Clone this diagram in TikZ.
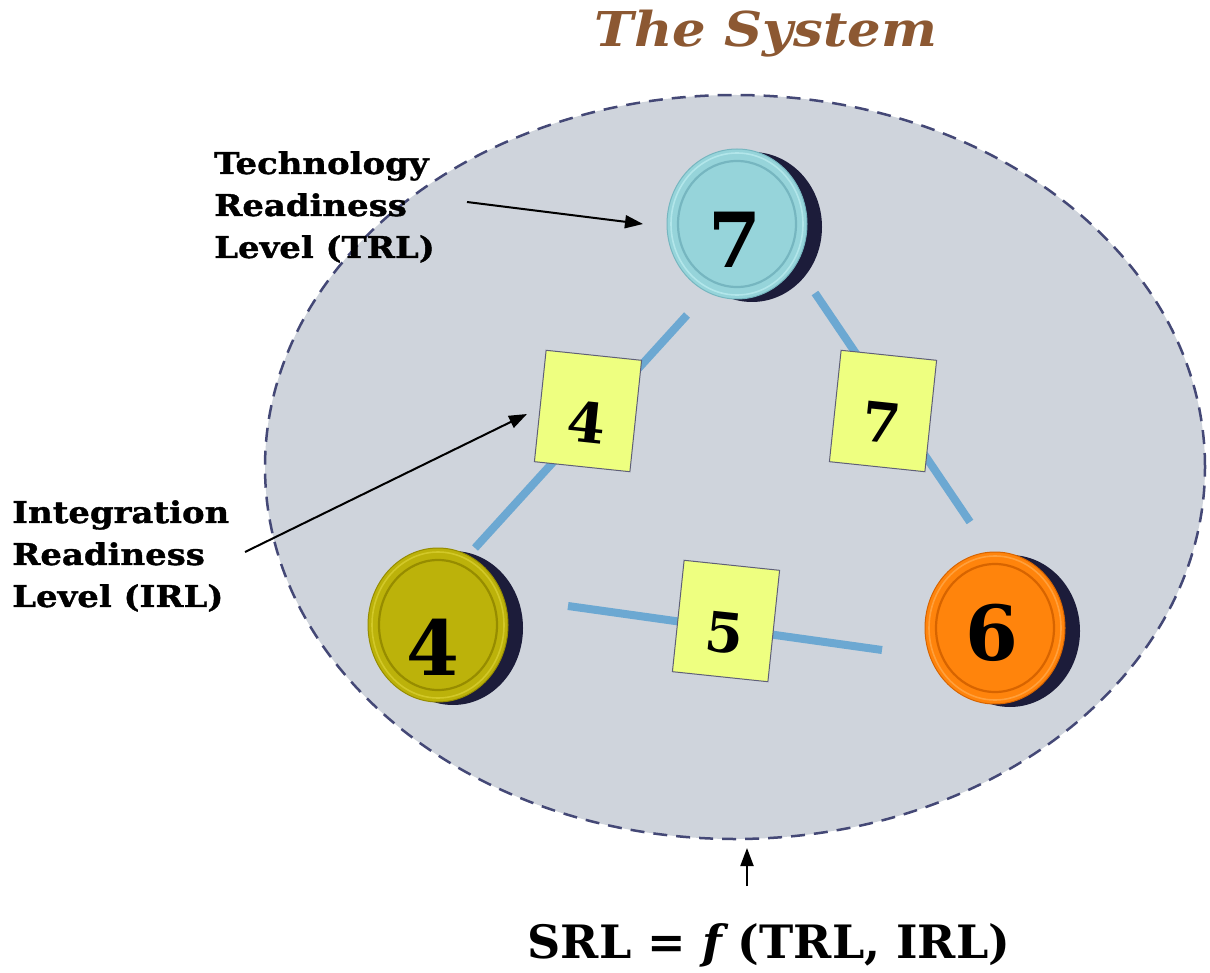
\documentclass[tikz,border=0pt]{standalone}
\usepackage{fontspec}
\usetikzlibrary{arrows.meta,shapes.geometric,shadows}
\newfontfamily\lblfont{DejaVu Serif Bold}[FakeStretch=1.13, FakeBold=1.2]
\newfontfamily\titlefont{DejaVu Serif}[FakeStretch=1.1]
\newfontfamily\numfont{DejaVu Serif}
\definecolor{ellfill}{RGB}{207,212,220}
\definecolor{elldash}{RGB}{68,72,118}
\definecolor{linkblue}{RGB}{108,168,210}
\definecolor{sqfill}{RGB}{238,255,128}
\definecolor{sqedge}{RGB}{95,95,120}
\definecolor{titlebrown}{RGB}{140,88,50}
\definecolor{coinshade}{RGB}{28,28,58}
\definecolor{cyanface}{RGB}{150,212,218}
\definecolor{cyanring}{RGB}{118,182,192}
\definecolor{cyanrim}{RGB}{178,230,234}
\definecolor{oliveface}{RGB}{188,178,10}
\definecolor{olivering}{RGB}{150,140,0}
\definecolor{oliverim}{RGB}{210,200,40}
\definecolor{orangeface}{RGB}{255,132,12}
\definecolor{orangering}{RGB}{215,100,0}
\definecolor{orangerim}{RGB}{255,160,60}
\begin{document}
\begin{tikzpicture}[x=1pt,y=-1pt,
  system/.style={ellipse, inner sep=0, minimum width=940pt, minimum height=744pt,
    fill=ellfill, draw=elldash, line width=2.5pt, dash pattern=on 14pt off 9pt},
  link/.style={draw=linkblue, line width=8pt},
  coin/.style={ellipse, inner sep=0, minimum width=140pt, minimum height=150pt,
    line width=1pt,
    general shadow={shadow xshift=15pt, shadow yshift=-3pt, fill=coinshade}},
  ringline/.style={line width=2.2pt},
  rimline/.style={line width=1.6pt},
  coindigit/.style={inner sep=0, font=\numfont\bfseries\fontsize{76}{76}\selectfont},
  irlbox/.style={rectangle, inner sep=0, minimum width=96pt, minimum height=112pt,
    rotate=-6, fill=sqfill, draw=sqedge, line width=1pt,
    text height=64pt, text depth=0pt,
    font=\numfont\bfseries\fontsize{55}{55}\selectfont},
  pointer/.style={draw=black, line width=2pt, -{Triangle[length=18pt,width=13pt]}},
  label/.style={inner sep=0, anchor=north west, align=left,
    font=\lblfont\fontsize{30}{42}\selectfont}
]
\useasboundingbox (0,0) rectangle (1210,973);
\fill[white] (0,0) rectangle (1210,973);

% title
\node[inner sep=0, anchor=base, text=titlebrown,
  font=\titlefont\bfseries\itshape\fontsize{48}{48}\selectfont] (title) at (766,47) {The System};

% the system boundary
\node[system] (system) at (735,467) {};

% integration links between technologies
\coordinate (l7a) at (687,315);
\coordinate (l4a) at (475,548);
\coordinate (l7b) at (815,293);
\coordinate (l6a) at (970,522);
\coordinate (l4b) at (568,606);
\coordinate (l6b) at (882,650);
\draw[link] (l7a) -- (l4a);
\draw[link] (l7b) -- (l6a);
\draw[link] (l4b) -- (l6b);

% IRL squares
\node[irlbox] (irl74) at (588,411) {4};
\node[irlbox] (irl76) at (883,411) {7};
\node[irlbox] (irl46) at (726,621) {5};

% TRL coins
\node[coin, fill=cyanface, draw=cyanring] (coin7) at (737,224) {};
\draw[rimline, draw=cyanrim] (coin7.center) ellipse [x radius=66, y radius=71];
\draw[ringline, draw=cyanring] (coin7.center) ellipse [x radius=59, y radius=63];
\node[coindigit] (d7) at (735,240) {7};

\node[coin, fill=oliveface, draw=olivering, minimum height=154pt] (coin4) at (438,625) {};
\draw[rimline, draw=oliverim] (coin4.center) ellipse [x radius=66, y radius=73];
\draw[ringline, draw=olivering] (coin4.center) ellipse [x radius=59, y radius=65];
\node[coindigit] (d4) at (433,647) {4};

\node[coin, fill=orangeface, draw=orangering, minimum height=152pt] (coin6) at (995,628) {};
\draw[rimline, draw=orangerim] (coin6.center) ellipse [x radius=66, y radius=72];
\draw[ringline, draw=orangering] (coin6.center) ellipse [x radius=59, y radius=64];
\node[coindigit] (d6) at (992,633) {6};

% labels and pointers
\node[label] (trl) at (214,151) {Technology\\Readiness\\Level (TRL)};
\node[label] (irl) at (12,500) {Integration\\Readiness\\Level (IRL)};

\coordinate (trlfrom) at (467,202);
\coordinate (trlto) at (643,224);
\draw[pointer] (trlfrom) -- (trlto);

\coordinate (irlfrom) at (245,552);
\coordinate (irlto) at (527,414);
\draw[pointer] (irlfrom) -- (irlto);

\coordinate (srlfrom) at (747,886);
\coordinate (srlto) at (747,848);
\draw[pointer] (srlfrom) -- (srlto);

\node[inner sep=0, anchor=base, font=\numfont\bfseries\fontsize{46}{46}\selectfont] (srl)
  at (769,958) {SRL = {\itshape f} (TRL, IRL)};
\end{tikzpicture}
\end{document}
